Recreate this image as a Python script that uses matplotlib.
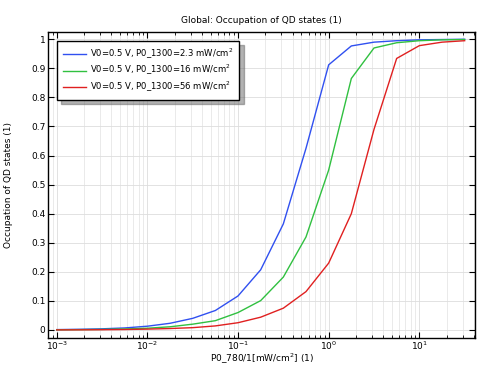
import numpy as np
import matplotlib
matplotlib.use("Agg")
import matplotlib.pyplot as plt

x = 10 ** np.arange(-3, 1.51, 0.25)
blue = [0.0013, 0.0024, 0.004, 0.007, 0.013, 0.023, 0.04, 0.067, 0.117, 0.207, 0.365, 0.625, 0.912, 0.977, 0.99, 0.995, 0.998, 0.999, 1.0]
green = [0.0007, 0.0012, 0.002, 0.0035, 0.006, 0.011, 0.02, 0.032, 0.06, 0.101, 0.182, 0.32, 0.55, 0.865, 0.97, 0.988, 0.995, 0.998, 0.999]
red = [0.0003, 0.0005, 0.0009, 0.0016, 0.003, 0.005, 0.008, 0.014, 0.025, 0.044, 0.075, 0.132, 0.23, 0.40, 0.69, 0.934, 0.978, 0.99, 0.995]
labels = ["V0=0.5 V, P0_1300=2.3 mW/cm$^2$",
          "V0=0.5 V, P0_1300=16 mW/cm$^2$",
          "V0=0.5 V, P0_1300=56 mW/cm$^2$"]
colors = ["#3050f0", "#30c040", "#e02020"]

plt.rcParams['font.family'] = ['DejaVu Sans']
fig = plt.figure(figsize=(4.79, 3.66), dpi=100)
ax = fig.add_axes([0.1008, 0.0757, 0.8908, 0.8377])
for y, c, l in zip([blue, green, red], colors, labels):
    ax.plot(x, y, color=c, lw=1.0, label=l)
ax.set_xscale('log')
ax.set_xlim(10**-3.093, 10**1.614)
ax.set_ylim(-0.0286, 1.026)
yt = np.arange(0, 1.01, 0.1)
ax.set_yticks(yt)
ax.set_yticklabels(["0"] + [f"{v:.1f}" for v in yt[1:-1]] + ["1"])
ax.grid(True, which='major', color='#dddddd', lw=0.6)
ax.grid(True, which='minor', axis='x', color='#e6e6e6', lw=0.6)
ax.tick_params(which='both', direction='in', top=True, right=True, labelsize=6.5, pad=2)
ax.tick_params(axis='x', which='both', pad=1)
ax.tick_params(which='major', length=4)
ax.tick_params(which='minor', length=2)
ax.text(0.5, 1.038, "Global: Occupation of QD states (1)", fontsize=6.5,
        ha='center', va='center', transform=ax.transAxes)
ax.set_ylabel("Occupation of QD states (1)", fontsize=6.5)
ax.yaxis.set_label_coords(-0.094, 0.5)
ax.yaxis.label.set_va('center')
ax.set_xlabel("P0_780/1[mW/cm$^2$] (1)", fontsize=6.5)
ax.xaxis.set_label_coords(0.5, -0.066)
ax.xaxis.label.set_va('center')
for s in ax.spines.values():
    s.set_linewidth(1.0)
leg = ax.legend(loc='upper left', fontsize=6.1, fancybox=False, shadow={'ox': 3, 'oy': -3, 'color': '#666666'},
                edgecolor='black', framealpha=1, borderpad=0.7, handlelength=2.7,
                handletextpad=0.5, labelspacing=0.3, borderaxespad=1.05)
leg.get_frame().set_linewidth(1.0)
fig.savefig("out.png", dpi=100)
